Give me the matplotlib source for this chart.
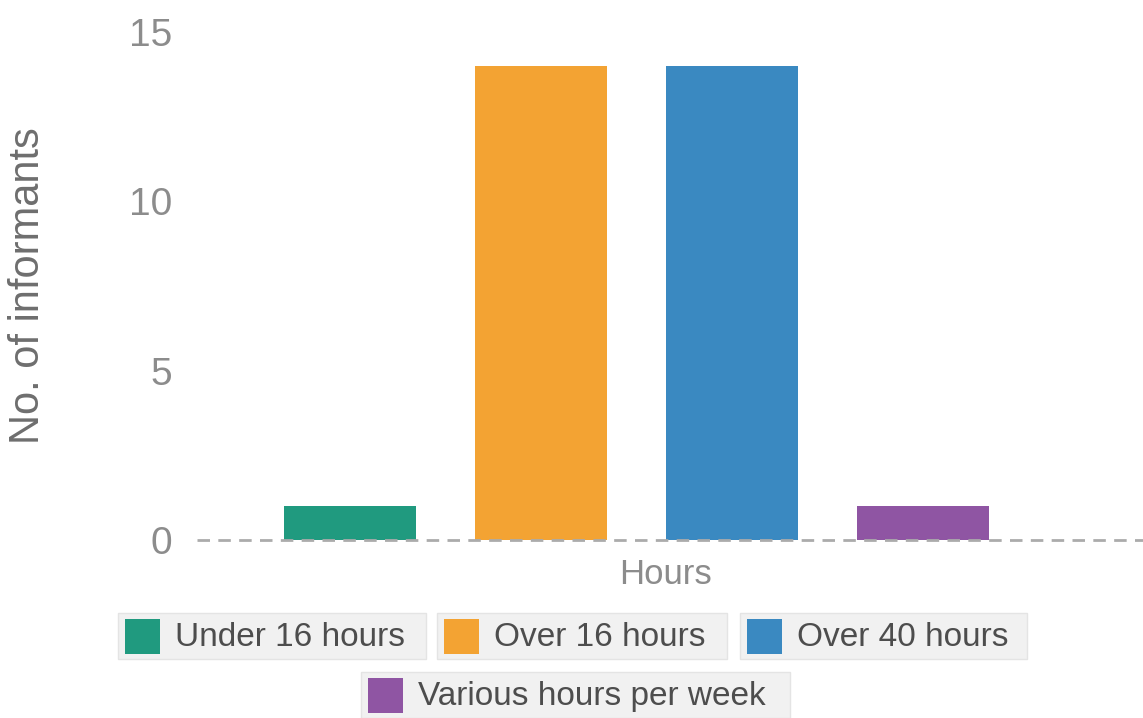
import matplotlib
matplotlib.use("Agg")
import matplotlib.pyplot as plt
from matplotlib.patches import Rectangle

plt.rcParams['font.family'] = ['Liberation Sans', 'DejaVu Sans']

categories = ["Under 16 hours", "Over 16 hours", "Over 40 hours", "Various hours per week"]
counts = [1, 14, 14, 1]
colors = ["#209a7f", "#f3a333", "#3a89c1", "#8f55a3"]
y_ticks = [0, 5, 10, 15]

W, H = 1143, 718
fig = plt.figure(figsize=(W / 100, H / 100), dpi=100)

# axes placement in pixels
ax_left, ax_right, ax_bottom, ax_top = 197, 1143, 540, 32
ax_h = ax_bottom - ax_top
ax = fig.add_axes([ax_left / W, (H - ax_bottom) / H,
                   (ax_right - ax_left) / W, ax_h / H])

x = list(range(len(categories)))
ax.bar(x, counts, width=0.69, color=colors, zorder=2)
ax.set_xlim(-0.801, 4.152)
ax.set_ylim(0, 15)

ax.axhline(0, color="#ababab", lw=2, ls=(0, (4.5, 3)), zorder=3, clip_on=False)

for s in ax.spines.values():
    s.set_visible(False)
ax.set_xticks([])
ax.set_yticks(y_ticks)
ax.set_yticklabels([str(t) for t in y_ticks])
ax.tick_params(axis="y", length=0, pad=18, labelsize=28, labelcolor="#8c8c8c")

ax.set_xlabel("Hours", fontsize=25, color="#8c8c8c")
ax.xaxis.set_label_coords(0.495, -34 / ax_h)
ax.xaxis.label.set_verticalalignment("center")
ax.set_ylabel("No. of informants", fontsize=30, color="#6e6e6e", labelpad=0)
ax.yaxis.set_label_coords(-(ax_left - 28) / (ax_right - ax_left), 0.5)
ax.yaxis.label.set_verticalalignment("center")

# legend: one boxed entry per series
entries = [
    (0, 118, 426, 636),
    (1, 437, 727, 636),
    (2, 740, 1027, 636),
    (3, 361, 790, 695),
]
for idx, x0, x1, yc in entries:
    bh = 46
    fig.patches.append(Rectangle((x0 / W, (H - yc - bh / 2) / H), (x1 - x0) / W, bh / H,
                                 transform=fig.transFigure, facecolor="#f1f1f1",
                                 edgecolor="#e4e4e4", lw=1))
    sw = 35
    fig.patches.append(Rectangle(((x0 + 7) / W, (H - yc - sw / 2) / H), sw / W, sw / H,
                                 transform=fig.transFigure, facecolor=colors[idx],
                                 edgecolor="none"))
    fig.text((x0 + 57) / W, (H - yc - 2) / H, categories[idx], fontsize=24,
             color="#4d4d4d", ha="left", va="center")

fig.savefig("out.png", dpi=100, facecolor="white")
